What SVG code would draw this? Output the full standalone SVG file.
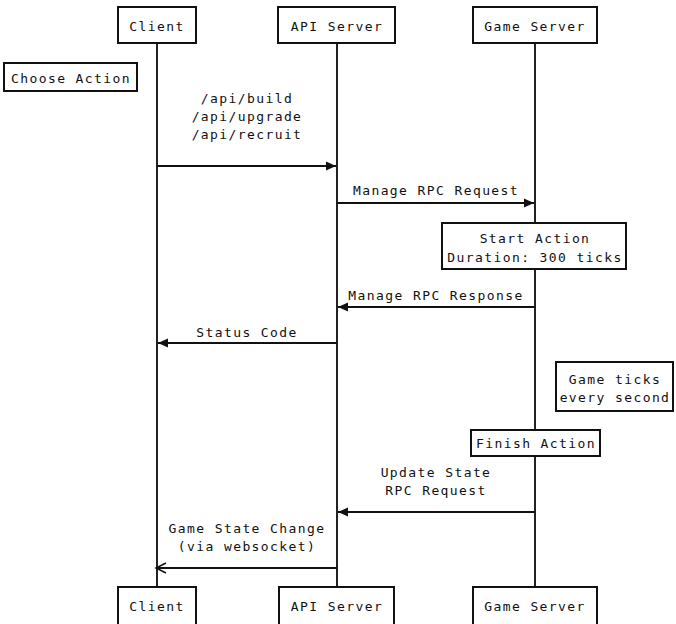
<svg xmlns="http://www.w3.org/2000/svg" width="676" height="624" viewBox="0 0 676 624">
<style>
text{font-family:"DejaVu Sans Mono","Liberation Mono",monospace;font-size:13px;letter-spacing:1.4px;fill:#111;text-anchor:middle}
.box{fill:#fff;stroke:#111;stroke-width:2}
.life{stroke:#222;stroke-width:2}
.msg{stroke:#111;stroke-width:2;fill:none}
</style>
<defs>
<marker id="fa" markerUnits="userSpaceOnUse" markerWidth="12" markerHeight="12" viewBox="0 0 12 12" refX="11" refY="6" orient="auto">
<path d="M1,1.5 L11,6 L1,10.5 Z" fill="#111"/>
</marker>
<marker id="oa" markerUnits="userSpaceOnUse" markerWidth="14" markerHeight="12" viewBox="0 0 14 12" refX="12" refY="6" orient="auto">
<path d="M2,1 L12,6 L2,11" fill="none" stroke="#111" stroke-width="1.5"/>
</marker>
</defs>
<g id="lifelines">
<line class="life" x1="157" y1="43" x2="157" y2="587"/>
<line class="life" x1="337" y1="43" x2="337" y2="587"/>
<line class="life" x1="535" y1="43" x2="535" y2="587"/>
</g>
<g id="client-top"><rect class="box" x="118" y="7" width="78" height="36"/><text x="157" y="31">Client</text></g>
<g id="api-top"><rect class="box" x="278" y="7" width="117" height="36"/><text x="337" y="31">API Server</text></g>
<g id="game-top"><rect class="box" x="473" y="7" width="124" height="36"/><text x="535" y="31">Game Server</text></g>
<g id="choose-action"><rect class="box" x="4" y="63" width="133" height="28"/><text x="71" y="83">Choose Action</text></g>
<g id="start-action"><rect class="box" x="442" y="223" width="184" height="46"/><text x="535" y="243">Start Action</text><text x="535" y="262">Duration: 300 ticks</text></g>
<g id="game-ticks"><rect class="box" x="556" y="362" width="117" height="49"/><text x="615" y="384">Game ticks</text><text x="615" y="402">every second</text></g>
<g id="finish-action"><rect class="box" x="471" y="430" width="129" height="26"/><text x="536" y="448">Finish Action</text></g>
<g id="client-bottom"><rect class="box" x="118" y="587" width="78" height="44"/><text x="157" y="611">Client</text></g>
<g id="api-bottom"><rect class="box" x="279" y="587" width="115" height="44"/><text x="337" y="611">API Server</text></g>
<g id="game-bottom"><rect class="box" x="473" y="587" width="124" height="44"/><text x="535" y="611">Game Server</text></g>
<g id="connectors">
<line class="msg" x1="157" y1="166" x2="336" y2="166" marker-end="url(#fa)"/>
<text x="247" y="103">/api/build</text>
<text x="247" y="121">/api/upgrade</text>
<text x="247" y="139">/api/recruit</text>
<line class="msg" x1="337" y1="203" x2="534" y2="203" marker-end="url(#fa)"/>
<text x="436" y="195">Manage RPC Request</text>
<line class="msg" x1="535" y1="307" x2="338" y2="307" marker-end="url(#fa)"/>
<text x="436" y="300">Manage RPC Response</text>
<line class="msg" x1="337" y1="343" x2="158" y2="343" marker-end="url(#fa)"/>
<text x="247" y="337">Status Code</text>
<line class="msg" x1="535" y1="512" x2="338" y2="512" marker-end="url(#fa)"/>
<text x="436" y="477">Update State</text>
<text x="436" y="495">RPC Request</text>
<line class="msg" x1="337" y1="568" x2="156" y2="568" marker-end="url(#oa)"/>
<text x="247" y="533">Game State Change</text>
<text x="247" y="551">(via websocket)</text>
</g>
</svg>
